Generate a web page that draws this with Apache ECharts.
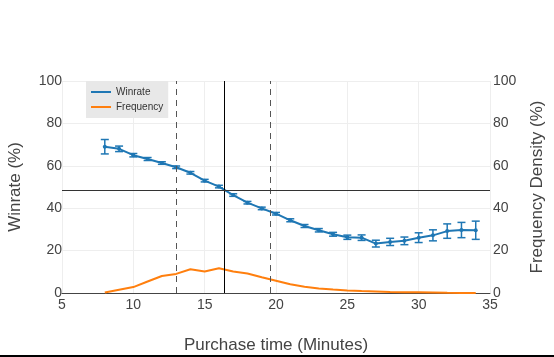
<!DOCTYPE html>
<html><head><meta charset="utf-8">
<script src="https://cdn.jsdelivr.net/npm/echarts@6/dist/echarts.min.js"></script>
<style>html,body{margin:0;padding:0;background:#fff}#c{width:554px;height:357px}</style>
</head><body><div id="c"></div>
<script>
const minutes = [8,9,10,11,12,13,14,15,16,17,18,19,20,21,22,23,24,25,26,27,28,29,30,31,32,33,34];
const winrate = [69,68,65,63.2,61.3,59.3,56.7,53,50.2,46.2,42.6,39.9,37.4,34.3,31.6,29.6,27.7,26.3,26.1,23.3,24.1,24.6,26.1,27.2,29.2,29.7,29.6];
const winrateErr = [3.4,1.3,0.8,0.7,0.6,0.6,0.6,0.6,0.6,0.6,0.6,0.6,0.6,0.7,0.7,0.8,0.9,1.0,1.3,1.6,1.7,1.8,2.3,2.6,3.4,3.6,4.3];
const frequency = [0.2,1.5,2.8,5.4,8.0,9.0,11.2,10.1,11.7,10.1,9.2,7.4,5.8,4.1,3.0,2.1,1.6,1.2,0.9,0.7,0.5,0.4,0.3,0.2,0.1,0.05,0];
const xTicks = [5,10,15,20,25,30,35];
const yTicks = [0,20,40,60,80,100];
const medianTime = 16.35, lowerTime = 13.0, upperTime = 19.6, meanWinrate = 48.4;

const chart = echarts.init(document.getElementById('c'));
const blue = '#1f77b4', orange = '#ff7f0e';
const errData = minutes.map((m,i)=>[m, winrate[i]-winrateErr[i], winrate[i]+winrateErr[i]]);
const axisLabel = {color:'#444', fontSize:14, fontFamily:'Liberation Sans, Arial'};
chart.setOption({
  animation:false,
  grid:{left:62,right:64,top:81,bottom:64,containLabel:false,outerBoundsMode:'none'},
  legend:{
    left:86, top:81, orient:'vertical', itemWidth:20, itemHeight:2, itemGap:5,
    padding:[6,5,6,5], backgroundColor:'#e8e8e8',
    textStyle:{fontSize:10,color:'#333',fontFamily:'Liberation Sans, Arial'},
    data:[{name:'Winrate',icon:'rect'},{name:'Frequency',icon:'rect'}]
  },
  xAxis:{type:'value',min:5,max:35,interval:5,
    name:'Purchase time (Minutes)',nameLocation:'middle',nameGap:44,
    nameTextStyle:{color:'#444',fontSize:17,fontFamily:'Liberation Sans, Arial'},
    axisLine:{lineStyle:{color:'#444',width:1}},axisTick:{show:false},
    axisLabel:Object.assign({margin:5},axisLabel),
    splitLine:{lineStyle:{color:'#eeeeee'}}},
  yAxis:[
    {type:'value',min:0,max:100,interval:20,position:'left',
     name:'Winrate (%)',nameLocation:'middle',nameGap:38,nameRotate:90,
     nameTextStyle:{color:'#444',fontSize:17,fontFamily:'Liberation Sans, Arial'},
     axisLine:{show:false},axisTick:{show:false},axisLabel:Object.assign({margin:0},axisLabel),
     splitLine:{lineStyle:{color:'#eeeeee'}}},
    {type:'value',min:0,max:100,interval:20,position:'right',
     name:'Frequency Density (%)',nameLocation:'middle',nameGap:39,nameRotate:90,
     nameTextStyle:{color:'#444',fontSize:17,fontFamily:'Liberation Sans, Arial'},
     axisLine:{show:false},axisTick:{show:false},axisLabel:Object.assign({margin:3},axisLabel),
     splitLine:{show:false}}
  ],
  series:[
    {name:'Frequency',type:'line',yAxisIndex:1,data:minutes.map((m,i)=>[m,frequency[i]]),
     showSymbol:false,lineStyle:{color:orange,width:2},itemStyle:{color:orange},z:2},
    {name:'Winrate',type:'line',yAxisIndex:0,data:minutes.map((m,i)=>[m,winrate[i]]),
     symbol:'circle',symbolSize:4,lineStyle:{color:blue,width:2},itemStyle:{color:blue},z:3,
     markLine:{silent:true,symbol:'none',label:{show:false},animation:false,
       data:[
         {xAxis:medianTime,lineStyle:{color:'#000',width:1,type:'solid'}},
         {xAxis:lowerTime,lineStyle:{color:'#555',width:1,type:[6,5]}},
         {xAxis:upperTime,lineStyle:{color:'#555',width:1,type:[6,5]}},
         {yAxis:meanWinrate,lineStyle:{color:'#333',width:1,type:'solid'}}
       ]}},
    {name:'err',type:'custom',yAxisIndex:0,data:errData,z:4,
     renderItem:function(params,api){
       const x=api.value(0), lo=api.coord([x,api.value(1)]), hi=api.coord([x,api.value(2)]);
       const w=4;
       const st={stroke:blue,lineWidth:1.5};
       return {type:'group',children:[
         {type:'line',shape:{x1:lo[0],y1:lo[1],x2:hi[0],y2:hi[1]},style:st},
         {type:'line',shape:{x1:lo[0]-w,y1:lo[1],x2:lo[0]+w,y2:lo[1]},style:st},
         {type:'line',shape:{x1:hi[0]-w,y1:hi[1],x2:hi[0]+w,y2:hi[1]},style:st}
       ]};
     }}
  ],
  graphic:[{type:'rect',shape:{x:0,y:355,width:554,height:2},style:{fill:'#000'}}]
});
</script></body></html>
